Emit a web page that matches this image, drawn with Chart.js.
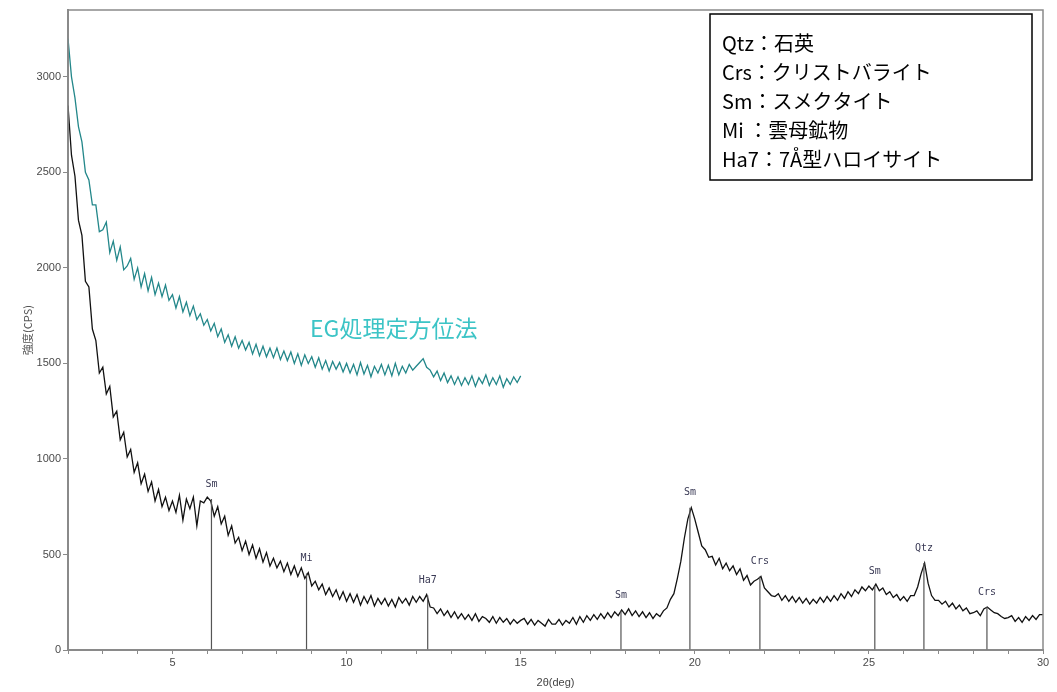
<!DOCTYPE html>
<html>
<head>
<meta charset="utf-8">
<script src="https://cdn.jsdelivr.net/npm/chart.js@4.4.1/dist/chart.umd.min.js"></script>
<style>
  html, body { margin: 0; padding: 0; background: #fff; }
</style>
</head>
<body>
<canvas id="xrdChart" width="1057" height="692"></canvas>
<script>
// Sampling grid (2θ, deg)
const startDeg = 2.0;
const stepDeg = 0.1;

// Untreated oriented sample (black), 2.0 .. 30.0
const untreated = [
  2850, 2590, 2480, 2250, 2170, 1930, 1900, 1680, 1620, 1450, // 2
  1480, 1340, 1380, 1220, 1250, 1100, 1140, 1010, 1050, 930,  // 3
  980, 870, 920, 830, 880, 780, 840, 750, 800, 730,           // 4
  780, 720, 810, 680, 790, 740, 800, 650, 780, 770,           // 5
  800, 780, 700, 750, 660, 700, 600, 650, 560, 590,           // 6
  520, 570, 500, 550, 480, 530, 460, 510, 440, 480,           // 7
  430, 465, 410, 455, 395, 440, 385, 430, 375, 405,           // 8
  335, 360, 315, 345, 290, 325, 280, 315, 265, 305,           // 9
  255, 295, 250, 290, 235, 280, 245, 285, 230, 270,           // 10
  240, 270, 230, 265, 225, 275, 245, 270, 235, 280,           // 11
  250, 280, 255, 290, 225, 220, 190, 215, 180, 205,           // 12
  170, 200, 165, 190, 160, 185, 155, 190, 150, 175,           // 13
  165, 145, 175, 140, 170, 145, 165, 135, 160, 140,           // 14
  155, 165, 135, 160, 130, 155, 140, 125, 160, 135,           // 15
  135, 160, 130, 155, 140, 170, 135, 175, 145, 180,           // 16
  155, 185, 160, 190, 165, 195, 170, 200, 180, 210,           // 17
  185, 215, 180, 205, 175, 200, 170, 195, 165, 190,           // 18
  175, 205, 220, 265, 295, 375, 465, 585, 685, 745,           // 19
  685, 615, 545, 525, 485, 490, 445, 480, 425, 455,           // 20
  415, 440, 395, 425, 365, 390, 340, 360, 370, 385,           // 21
  325, 305, 285, 280, 295, 260, 285, 255, 280, 250,           // 22
  275, 245, 270, 240, 265, 245, 275, 250, 280, 255,           // 23
  285, 260, 295, 270, 305, 280, 315, 295, 330, 310,           // 24
  335, 315, 345, 310, 325, 290, 305, 275, 290, 260,           // 25
  280, 255, 285, 285, 330, 400, 455, 350, 285, 260,           // 26
  260, 240, 255, 225, 245, 215, 235, 205, 220, 190,           // 27
  195, 205, 180, 215, 225, 210, 195, 190, 175, 165,           // 28
  170, 180, 150, 170, 145, 175, 155, 180, 160, 185,           // 29
  185                                                         // 30
];

// EG treated oriented sample (teal), 2.0 .. 15.0
const egTreated = [
  3200, 3000, 2890, 2740, 2660, 2500, 2460, 2330, 2330, 2190, // 2
  2200, 2240, 2080, 2140, 2040, 2110, 1990, 2010, 2050, 1940, // 3
  2000, 1900, 1970, 1880, 1950, 1860, 1920, 1850, 1910, 1830, // 4
  1860, 1790, 1850, 1770, 1820, 1750, 1800, 1730, 1760, 1700, // 5
  1730, 1670, 1710, 1640, 1680, 1610, 1650, 1590, 1640, 1580, // 6
  1620, 1570, 1610, 1550, 1600, 1540, 1590, 1535, 1580, 1530, // 7
  1580, 1520, 1565, 1515, 1560, 1500, 1550, 1490, 1545, 1500, // 8
  1535, 1480, 1530, 1470, 1515, 1460, 1510, 1470, 1505, 1455, // 9
  1500, 1450, 1495, 1440, 1505, 1445, 1490, 1430, 1485, 1450, // 10
  1495, 1440, 1490, 1435, 1500, 1440, 1485, 1450, 1495, 1465, // 11
  1485, 1505, 1525, 1480, 1465, 1430, 1460, 1410, 1450, 1400, // 12
  1435, 1390, 1430, 1385, 1425, 1390, 1435, 1380, 1425, 1395, // 13
  1440, 1385, 1425, 1390, 1435, 1375, 1420, 1390, 1430, 1400, // 14
  1435                                                        // 15
];

// Axis ticks
const yTickValues = [0, 500, 1000, 1500, 2000, 2500, 3000];

// Peak identification markers
const peakPos   = [6.12, 8.85, 12.33, 17.88, 19.86, 21.87, 25.17, 26.58, 28.39];
const peakTop   = [790, 400, 285, 205, 745, 385, 335, 455, 225];
const peakNames = ['Sm', 'Mi', 'Ha7', 'Sm', 'Sm', 'Crs', 'Sm', 'Qtz', 'Crs'];

// Mineral key
const mineralKey = [
  'Qtz：石英',
  'Crs：クリストバライト',
  'Sm：スメクタイト',
  'Mi ：雲母鉱物',
  'Ha7：7Å型ハロイサイト'
];
const egLabel = 'EG処理定方位法';
const egLabelAt = { x: 8.95, y: 1684 };

const toPoints = arr => arr.map((v, i) => ({ x: +(startDeg + i * stepDeg).toFixed(2), y: v }));

const markerPoints = [];
peakPos.forEach((p, i) => {
  markerPoints.push({ x: p, y: 0 }, { x: p, y: peakTop[i] }, { x: p, y: null });
});

const colors = {
  black: '#111111',
  teal: '#23878a',
  tealText: '#3cc4c6',
  axis: '#8a8a8a',
  tick: '#4a4a4a',
  marker: '#555555'
};

// Frame, peak labels, EG label and the mineral key box
const decorations = {
  id: 'decorations',
  afterDraw(chart) {
    const { ctx, chartArea: a, scales: { x, y } } = chart;
    ctx.save();
    ctx.strokeStyle = colors.axis;
    ctx.lineWidth = 1.5;
    ctx.strokeRect(a.left, a.top, a.right - a.left, a.bottom - a.top);

    // peak names
    ctx.fillStyle = '#3a3a55';
    ctx.font = '10px "DejaVu Sans Mono", monospace';
    ctx.textAlign = 'center';
    ctx.textBaseline = 'middle';
    peakPos.forEach((p, i) => {
      ctx.fillText(peakNames[i], x.getPixelForValue(p), y.getPixelForValue(peakTop[i]) - 15);
    });

    // EG series label
    ctx.fillStyle = colors.tealText;
    ctx.font = '23px "Noto Sans CJK JP", sans-serif';
    ctx.textAlign = 'left';
    ctx.fillText(egLabel, x.getPixelForValue(egLabelAt.x), y.getPixelForValue(egLabelAt.y));

    // mineral key box
    ctx.fillStyle = '#fff';
    ctx.fillRect(710, 14, 322, 166);
    ctx.strokeStyle = '#000';
    ctx.lineWidth = 1.5;
    ctx.strokeRect(710, 14, 322, 166);
    ctx.fillStyle = '#000';
    ctx.font = '20px "Noto Sans CJK JP", sans-serif';
    mineralKey.forEach((t, i) => ctx.fillText(t, 722, 43 + i * 29));
    ctx.restore();
  }
};

Chart.defaults.font.family = "'Liberation Sans', Arial, sans-serif";

new Chart(document.getElementById('xrdChart'), {
  type: 'line',
  data: {
    datasets: [
      {
        label: 'markers',
        data: markerPoints,
        borderColor: colors.marker,
        borderWidth: 1.2,
        pointRadius: 0,
        spanGaps: false
      },
      {
        label: 'EG',
        data: toPoints(egTreated),
        borderColor: colors.teal,
        borderWidth: 1.3,
        pointRadius: 0,
        tension: 0
      },
      {
        label: 'untreated',
        data: toPoints(untreated),
        borderColor: colors.black,
        borderWidth: 1.3,
        pointRadius: 0,
        tension: 0
      }
    ]
  },
  options: {
    responsive: false,
    animation: false,
    devicePixelRatio: 1,
    layout: { padding: { top: 10, right: 14, left: 0, bottom: 0 } },
    plugins: {
      legend: { display: false },
      tooltip: { enabled: false }
    },
    scales: {
      x: {
        type: 'linear',
        min: 2,
        max: 30,
        afterFit: s => { s.height = 42; },
        ticks: {
          stepSize: 1,
          autoSkip: false,
          maxRotation: 0,
          padding: 2,
          color: colors.tick,
          font: { size: 11 },
          callback: v => (v % 5 === 0 ? String(v) : '')
        },
        grid: { drawOnChartArea: false, tickLength: 4, color: colors.axis },
        border: { color: colors.axis, width: 2 },
        title: {
          display: true,
          text: '2θ(deg)',
          color: '#444',
          font: { size: 11 },
          padding: { top: 0, bottom: 2 }
        }
      },
      y: {
        min: 0,
        max: 3350,
        afterFit: s => { s.width = 68; },
        afterBuildTicks: s => { s.ticks = yTickValues.map(v => ({ value: v })); },
        ticks: {
          padding: 2,
          color: colors.tick,
          font: { size: 11 },
          callback: v => String(v)
        },
        grid: { drawOnChartArea: false, tickLength: 5, color: colors.axis },
        border: { color: colors.axis, width: 2 },
        title: {
          display: true,
          text: '強度(CPS)',
          color: '#555',
          font: { size: 11, family: "'Noto Sans CJK JP', sans-serif" },
          padding: { top: 21, bottom: 0 }
        }
      }
    }
  },
  plugins: [decorations]
});
</script>
</body>
</html>
